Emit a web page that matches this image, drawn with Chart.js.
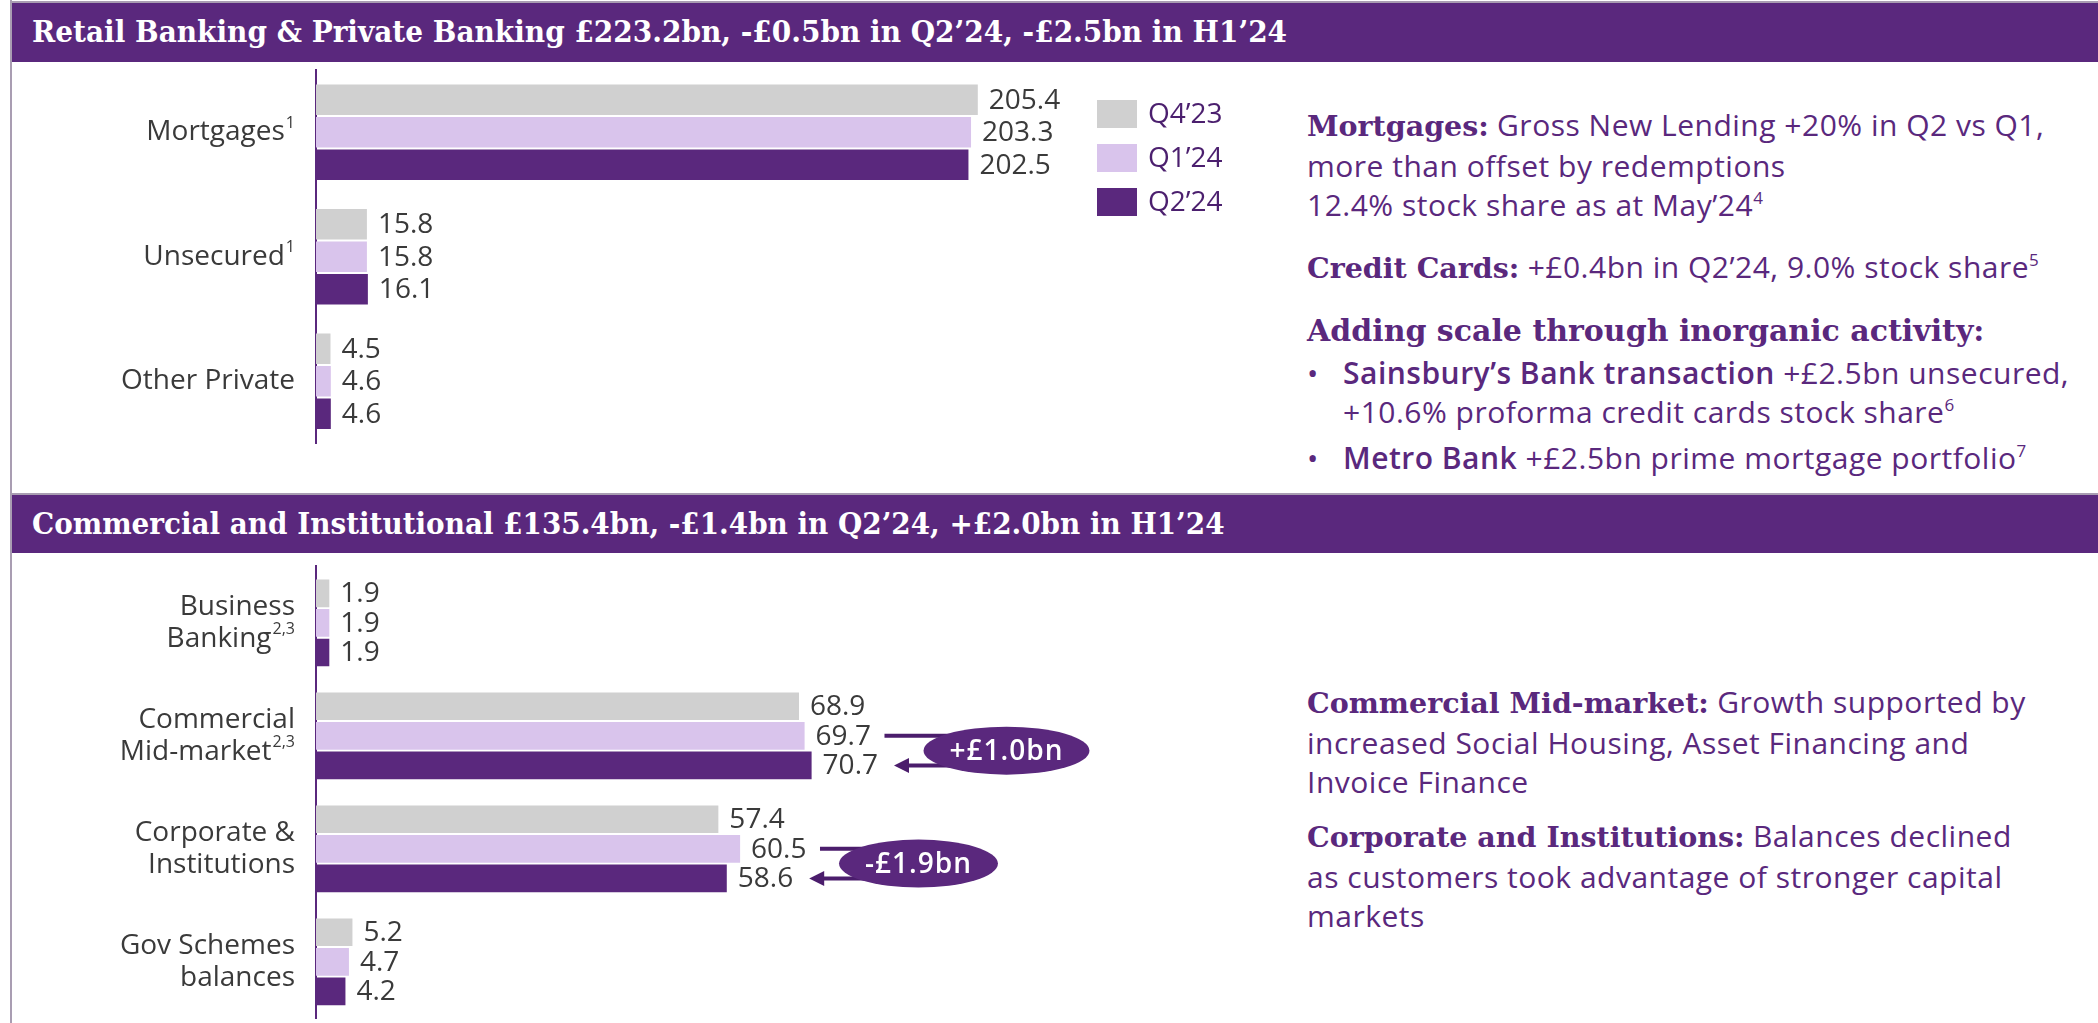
<!DOCTYPE html>
<html><head><meta charset="utf-8">
<script src="https://cdn.jsdelivr.net/npm/chart.js@4"></script>
<style>
html,body{margin:0;padding:0;background:#fff;}
body{width:2098px;height:1023px;position:relative;overflow:hidden;font-family:'Open Sans',sans-serif;}
.gray{position:absolute;background:#a99db2;}
.banner{position:absolute;left:12px;right:0;background:#5a287d;}
.btitle{position:absolute;left:20px;top:0;white-space:nowrap;color:#fff;font-family:'DejaVu Serif',serif;font-weight:bold;font-size:29px;transform-origin:0 50%;}
.note{position:absolute;left:1307px;color:#5a287d;font-size:30px;line-height:39px;letter-spacing:0.5px;white-space:nowrap;}
.slab{font-family:'DejaVu Serif',serif;font-weight:bold;font-size:28.5px;letter-spacing:0;}
.sup{font-size:17px;position:relative;top:-12px;line-height:0;}
.semi{font-weight:600;}
.bul{position:absolute;left:1307px;}
.btext{position:absolute;left:1343px;}
canvas{position:absolute;left:0;}
</style></head>
<body>
<div class="gray" style="left:10px;top:0;width:2px;height:1023px"></div>
<div class="gray" style="left:10px;top:1px;right:0;height:2px"></div>
<div class="banner" style="top:3px;height:59px"><span class="btitle" id="t1" style="line-height:59px">Retail Banking &amp; Private Banking £223.2bn, -£0.5bn in Q2’24, -£2.5bn in H1’24</span></div>
<div class="gray" style="left:10px;top:493px;right:0;height:2px"></div>
<div class="banner" style="top:495px;height:58px"><span class="btitle" id="t2" style="line-height:58px">Commercial and Institutional £135.4bn, -£1.4bn in Q2’24, +£2.0bn in H1’24</span></div>

<canvas id="c1" width="1250" height="490" style="top:0"></canvas>
<canvas id="c2" width="1250" height="470" style="top:553px"></canvas>

<div class="note" style="top:105px"><span class="slab">Mortgages:</span> Gross New Lending +20% in Q2 vs Q1,<br>more than offset by redemptions<br>12.4% stock share as at May’24<span class="sup">4</span></div>
<div class="note" style="top:247px"><span class="slab">Credit Cards:</span> +£0.4bn in Q2’24, 9.0% stock share<span class="sup">5</span></div>
<div class="note" style="top:310px"><span class="slab" style="font-size:30px">Adding scale through inorganic activity:</span></div>
<div class="note" style="top:353px;left:0"><span class="bul">•</span><span class="btext"><span class="semi">Sainsbury’s Bank transaction</span> +£2.5bn unsecured,<br>+10.6% proforma credit cards stock share<span class="sup">6</span></span></div>
<div class="note" style="top:438px;left:0"><span class="bul">•</span><span class="btext"><span class="semi">Metro Bank</span> +£2.5bn prime mortgage portfolio<span class="sup">7</span></span></div>

<div class="note" style="top:682px"><span class="slab">Commercial Mid-market:</span> Growth supported by<br>increased Social Housing, Asset Financing and<br>Invoice Finance</div>
<div class="note" style="top:816px"><span class="slab">Corporate and Institutions:</span> Balances declined<br>as customers took advantage of stronger capital<br>markets</div>

<script>
// ---------- data ----------
const seriesNames = ['Q4’23', 'Q1’24', 'Q2’24'];

const retailCategories = [['Mortgages'], ['Unsecured'], ['Other Private']];
const retailFootnotes = ['1', '1', ''];
const retailQ4_23 = [205.4, 15.8, 4.5];
const retailQ1_24 = [203.3, 15.8, 4.6];
const retailQ2_24 = [202.5, 16.1, 4.6];

const commCategories = [['Business', 'Banking'], ['Commercial', 'Mid-market'], ['Corporate &', 'Institutions'], ['Gov Schemes', 'balances']];
const commFootnotes = ['2,3', '2,3', '', ''];
const commQ4_23 = [1.9, 68.9, 57.4, 5.2];
const commQ1_24 = [1.9, 69.7, 60.5, 4.7];
const commQ2_24 = [1.9, 70.7, 58.6, 4.2];
const commChangeLabels = ['', '+£1.0bn', '-£1.9bn', ''];

// ---------- styles ----------
const FONT = "'Open Sans', sans-serif";
const seriesColors = ['#d0d0d0', '#d9c4ec', '#5a287d'];
const PURPLE = '#5a287d';
const ARROW = '#4b1d6c';
const TEXT = '#3a3a3a';
const changeOffsets = [0, 122, 98.5, 0];

const fmt = v => v.toFixed(1);

const catLabelPlugin = {
  id: 'catLabels',
  afterDraw(chart, args, opts) {
    const {ctx, chartArea} = chart;
    const ys = chart.scales.y;
    const right = chartArea.left - 21;
    ctx.save();
    ctx.fillStyle = TEXT;
    ctx.textBaseline = 'middle';
    chart.data.labels.forEach((lines, i) => {
      const cy = ys.getPixelForValue(i);
      const n = lines.length;
      lines.forEach((line, j) => {
        const ly = cy + (j - (n - 1) / 2) * opts.lineGap;
        const sup = (j === n - 1) ? opts.footnotes[i] : '';
        let supW = 0;
        if (sup) { ctx.font = '16px ' + FONT; supW = ctx.measureText(sup).width + 1; }
        ctx.font = '28px ' + FONT; ctx.textAlign = 'right';
        ctx.fillText(line, right - supW, ly);
        if (sup) { ctx.font = '16px ' + FONT; ctx.textAlign = 'left'; ctx.fillText(sup, right - supW + 1, ly - 9); }
      });
    });
    ctx.restore();
  }
};

const valueLabelPlugin = {
  id: 'valueLabels',
  afterDatasetsDraw(chart) {
    const ctx = chart.ctx;
    ctx.save();
    ctx.font = '28px ' + FONT;
    ctx.fillStyle = TEXT;
    ctx.textBaseline = 'middle';
    ctx.textAlign = 'left';
    chart.data.datasets.forEach((ds, i) => {
      chart.getDatasetMeta(i).data.forEach((bar, k) => {
        ctx.fillText(fmt(ds.data[k]), bar.x + 11, bar.y + 1);
      });
    });
    ctx.restore();
  }
};

const legendPlugin = {
  id: 'boxLegend',
  afterDraw(chart, args, opts) {
    if (!opts.show) return;
    const ctx = chart.ctx;
    ctx.save();
    chart.data.datasets.forEach((ds, i) => {
      const y = opts.y + i * opts.gap;
      ctx.fillStyle = ds.backgroundColor;
      ctx.fillRect(opts.x, y, 40, 28);
      ctx.fillStyle = '#4b1f6e';
      ctx.font = '28px ' + FONT;
      ctx.textBaseline = 'middle';
      ctx.fillText(ds.label, opts.x + 51, y + 15);
    });
    ctx.restore();
  }
};

const changePlugin = {
  id: 'changes',
  afterDatasetsDraw(chart, args, opts) {
    if (!opts.labels) return;
    const ctx = chart.ctx;
    const d1 = chart.data.datasets[1].data, d2 = chart.data.datasets[2].data;
    opts.labels.forEach((txt, i) => {
      if (!txt) return;
      const b1 = chart.getDatasetMeta(1).data[i], b2 = chart.getDatasetMeta(2).data[i];
      ctx.save();
      ctx.font = '28px ' + FONT;
      const l1 = b1.x + 11 + ctx.measureText(fmt(d1[i])).width;
      const l2 = b2.x + 11 + ctx.measureText(fmt(d2[i])).width;
      const x0 = l1 + 13.5, tip = l2 + 16;
      const cx = x0 + opts.offsets[i];
      const cy = (b1.y + b2.y) / 2;
      ctx.strokeStyle = ARROW; ctx.fillStyle = ARROW; ctx.lineWidth = 4;
      ctx.beginPath();
      ctx.moveTo(x0, b1.y); ctx.lineTo(cx, b1.y); ctx.lineTo(cx, b2.y); ctx.lineTo(tip + 12, b2.y);
      ctx.stroke();
      ctx.beginPath();
      ctx.moveTo(tip, b2.y); ctx.lineTo(tip + 15, b2.y - 7.5); ctx.lineTo(tip + 15, b2.y + 7.5); ctx.closePath();
      ctx.fill();
      ctx.font = '600 28px ' + FONT;
      ctx.letterSpacing = '1px';
      const tw = ctx.measureText(txt).width;
      ctx.beginPath();
      ctx.ellipse(cx, cy, tw / 2 + 26, 24, 0, 0, Math.PI * 2);
      ctx.fillStyle = PURPLE; ctx.fill();
      ctx.fillStyle = '#ffffff';
      ctx.textAlign = 'center'; ctx.textBaseline = 'middle';
      ctx.fillText(txt, cx, cy + 1);
      ctx.restore();
    });
  }
};

function makeChart(id, labels, series, cfg) {
  return new Chart(document.getElementById(id), {
    type: 'bar',
    data: {
      labels: labels,
      datasets: series.map((d, i) => ({
        label: seriesNames[i], data: d, backgroundColor: seriesColors[i], borderWidth: 0,
        categoryPercentage: 0.785, barPercentage: 0.935
      }))
    },
    options: {
      indexAxis: 'y', responsive: false, animation: false, devicePixelRatio: 1,
      layout: { padding: cfg.padding },
      plugins: {
        legend: { display: false }, tooltip: { enabled: false },
        catLabels: { footnotes: cfg.footnotes, lineGap: 32 },
        boxLegend: { show: cfg.legend, x: 1097, y: 100, gap: 44 },
        changes: { labels: cfg.changes, offsets: changeOffsets }
      },
      scales: {
        x: { display: false, min: 0, max: cfg.max },
        y: {
          grid: { display: true, drawOnChartArea: false, drawTicks: false, color: 'rgba(0,0,0,0)' },
          border: { display: true, color: PURPLE, width: 2 },
          ticks: { display: false },
          afterFit: s => { s.width = 316; }
        }
      }
    },
    plugins: [catLabelPlugin, valueLabelPlugin, legendPlugin, changePlugin]
  });
}

makeChart('c1', retailCategories, [retailQ4_23, retailQ1_24, retailQ2_24],
  { padding: { left: 0, top: 70, bottom: 46.5, right: 128.5 }, max: 250, footnotes: retailFootnotes, legend: true, changes: null });
makeChart('c2', commCategories, [commQ4_23, commQ1_24, commQ2_24],
  { padding: { left: 0, top: 13.4, bottom: 4.7, right: 233 }, max: 100, footnotes: commFootnotes, legend: false, changes: commChangeLabels });

// fit banner titles to the reference width
[['t1', 1255], ['t2', 1193]].forEach(([id, w]) => {
  const el = document.getElementById(id);
  el.style.transform = 'scaleX(' + (w / el.offsetWidth) + ')';
});
</script>
</body></html>
